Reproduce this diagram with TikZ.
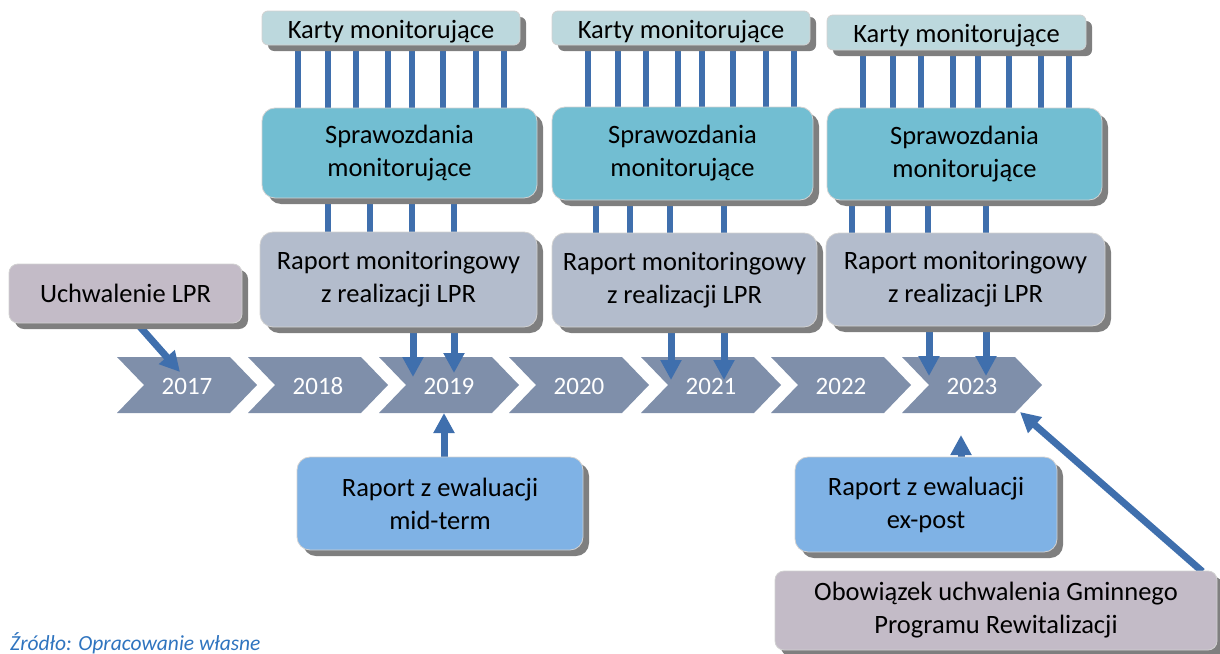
\documentclass[tikz,border=0pt]{standalone}
\usepackage{fontspec}
\setmainfont{Carlito}
\usetikzlibrary{arrows.meta,shadows,calc}
\definecolor{arrblue}{HTML}{3F6FAD}
\definecolor{chev}{HTML}{7F8FAA}
\definecolor{kartyc}{HTML}{BCD8DD}
\definecolor{sprawc}{HTML}{72BED2}
\definecolor{raportc}{HTML}{B3BCCC}
\definecolor{mauvec}{HTML}{C3BBC7}
\definecolor{evalc}{HTML}{7FB2E5}
\definecolor{shadowc}{HTML}{7F7F7F}
\definecolor{srcblue}{HTML}{2F74BF}
\pgfdeclarelayer{bgzero}
\pgfdeclarelayer{bgone}
\pgfsetlayers{bgzero,bgone,main}
\tikzset{
  boxbase/.style={draw=white!82!black, line width=0.8pt, align=center, inner sep=0pt,
    font=\fontsize{26.5}{33}\selectfont, text=black,
    drop shadow={shadow xshift=6pt, shadow yshift=-6pt, fill=shadowc, opacity=1}},
  kartybox/.style={boxbase, rounded corners=6pt, fill=kartyc},
  sprawbox/.style={boxbase, rounded corners=13pt, fill=sprawc},
  raportbox/.style={boxbase, rounded corners=13pt, fill=raportc},
  mauvebox/.style={boxbase, rounded corners=9pt, fill=mauvec},
  evalbox/.style={boxbase, rounded corners=13pt, fill=evalc},
  vline/.style={draw=arrblue, line width=6.5pt},
  arr/.style={draw=arrblue, line width=7pt, -{Triangle[length=20pt,width=20pt]}},
  yeartxt/.style={text=white, font=\fontsize{25}{30}\selectfont, inner sep=0pt},
  chevshape/.style={fill=chev, draw=none}
}
\newcommand{\lowered}[1]{\raisebox{-3.5pt}[\height][\depth]{#1}}
\begin{document}
\begin{tikzpicture}[x=1pt,y=-1pt]
\useasboundingbox (0,0) rectangle (1220,653);

% chevrons
\foreach \yr/\x in {2017/117,2018/248,2019/379,2020/509,2021/641,2022/771,2023/902}{
  \begin{pgfonlayer}{bgzero}
  \fill[chevshape] (\x,357) -- (\x+113,357) -- (\x+140,385) -- (\x+113,413) -- (\x,413) -- (\x+27,385) -- cycle;
  \end{pgfonlayer}
  \node[yeartxt] (y\yr) at (\x+70,386) {\yr};
}

% top boxes
\node[kartybox, minimum width=258pt, minimum height=34pt] (k1) at (391,28) {\lowered{Karty monitorujące}};
\node[kartybox, minimum width=258pt, minimum height=34pt] (k2) at (681,28) {\lowered{Karty monitorujące}};
\node[kartybox, minimum width=259pt, minimum height=35pt] (k3) at (956.5,32.5) {\lowered{Karty monitorujące}};

\node[sprawbox, minimum width=275pt, minimum height=90pt] (s1) at (399.5,153) {Sprawozdania\\monitorujące};
\node[sprawbox, minimum width=261pt, minimum height=93pt] (s2) at (682.5,153.5) {Sprawozdania\\monitorujące};
\node[sprawbox, minimum width=275pt, minimum height=92pt] (s3) at (964.5,154) {Sprawozdania\\monitorujące};

\node[raportbox, minimum width=277pt, minimum height=95pt] (r1) at (398.5,279.5) {Raport monitoringowy\\z realizacji LPR};
\node[raportbox, minimum width=265pt, minimum height=94pt] (r2) at (684.5,280) {Raport monitoringowy\\z realizacji LPR};
\node[raportbox, minimum width=279pt, minimum height=93pt] (r3) at (965.5,279.5) {Raport monitoringowy\\z realizacji LPR};

\node[mauvebox, minimum width=233pt, minimum height=59pt] (u) at (125.5,293.5) {Uchwalenie LPR};

\node[evalbox, minimum width=286pt, minimum height=93pt] (m) at (440,503.5) {Raport z ewaluacji\\mid-term};
\node[evalbox, minimum width=262pt, minimum height=95pt] (e) at (926,504.5) {Raport z ewaluacji\\ex-post};
\node[mauvebox, minimum width=442pt, minimum height=79pt] (o) at (996,610.5) {Obowiązek uchwalenia Gminnego\\Programu Rewitalizacji};

\node[anchor=base west, inner sep=0pt, text=srcblue, font=\fontsize{21.5}{26}\selectfont\itshape] (src) at (10,650) {Źródło: Opracowanie własne};

% connectors
\begin{pgfonlayer}{bgone}
\foreach \x in {298,328,356,388,412,443,476,504}
  \draw[vline] (k1.south -| \x,0) -- (s1.north -| \x,0);
\foreach \x in {588,618,646,678,702,733,766,794}
  \draw[vline] (k2.south -| \x,0) -- (s2.north -| \x,0);
\foreach \x in {863,893,921,953,978,1009,1041,1069}
  \draw[vline] (k3.south -| \x,0) -- (s3.north -| \x,0);
\foreach \x in {328,370,412,454}
  \draw[vline] (s1.south -| \x,0) -- (r1.north -| \x,0);
\foreach \x in {596,630,670,724}
  \draw[vline] (s2.south -| \x,0) -- (r2.north -| \x,0);
\foreach \x in {852,888,928,986}
  \draw[vline] (s3.south -| \x,0) -- (r3.north -| \x,0);

\draw[arr] (r1.south -| 413,0) -- (413,377);
\draw[arr] (r1.south -| 454,0) -- (454,373);
\draw[arr] (r2.south -| 671,0) -- (671,380);
\draw[arr] (r2.south -| 724,0) -- (724,380);
\draw[arr] (r3.south -| 929,0) -- (929,376);
\draw[arr] (r3.south -| 986,0) -- (986,376);

\draw[arr] ($(u.south)+(11.5,0)$) -- (180,372);
\draw[arr] (m.north -| 444,0) -- (444,413);
\draw[arr] (e.north -| 961,0) -- (961,435);
\draw[arr] ($(o.north east)+(-15,1)$) -- (1020,412);
\end{pgfonlayer}
\end{tikzpicture}
\end{document}
